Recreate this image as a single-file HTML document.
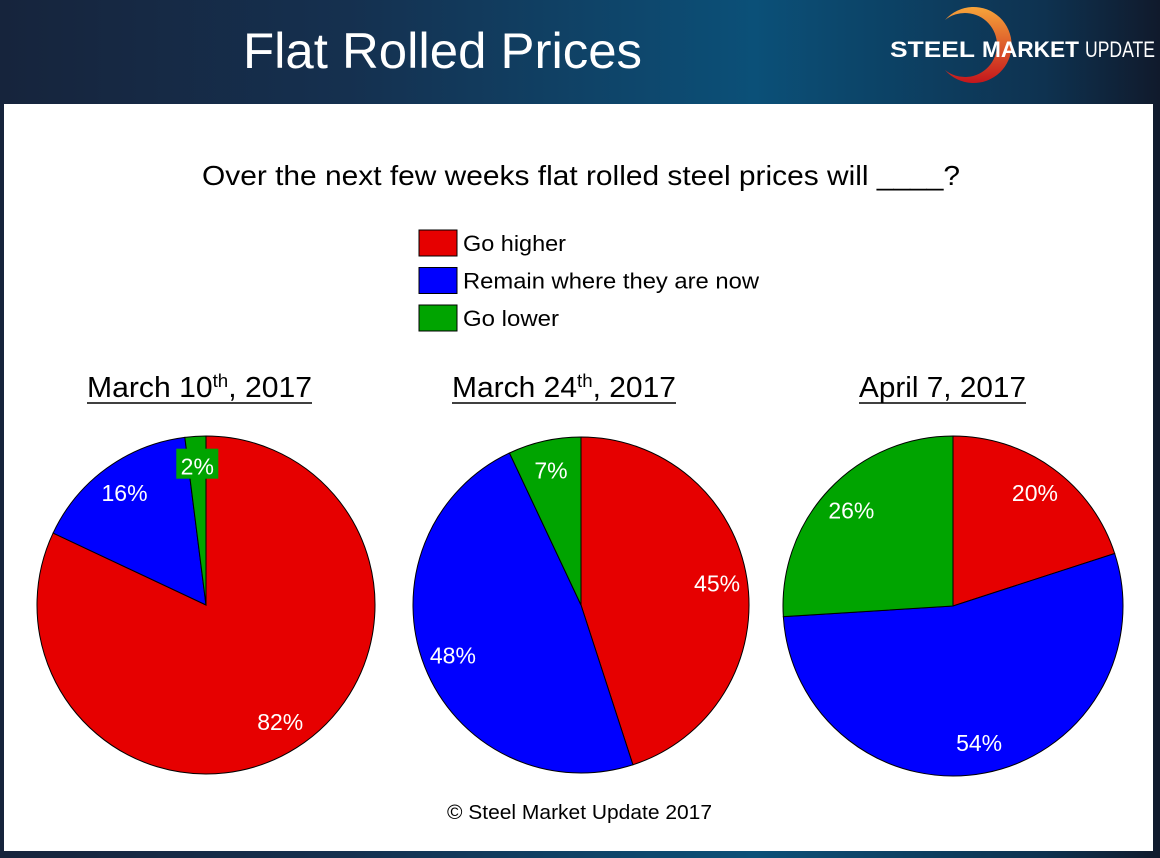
<!DOCTYPE html>
<html><head><meta charset="utf-8">
<style>
html,body{margin:0;padding:0;}
body{width:1160px;height:858px;overflow:hidden;position:relative;font-family:"Liberation Sans","DejaVu Sans",sans-serif;
background:linear-gradient(90deg,#16243c 0%,#15304f 30%,#0b5078 65%,#0e3250 90%,#101a2c 100%);}
#panel{position:absolute;left:4px;top:104px;width:1149px;height:747px;background:#fff;}
</style></head><body>
<svg style="position:absolute;left:0;top:0" width="860" height="100">
<text x="243" y="68" fill="#fff" font-size="50" textLength="399" lengthAdjust="spacingAndGlyphs">Flat Rolled Prices</text>
</svg>
<svg style="position:absolute;left:880px;top:0" width="280" height="100">
<defs><linearGradient id="lg" x1="0" y1="0" x2="0" y2="1"><stop offset="0" stop-color="#f7a43a"/><stop offset="1" stop-color="#c4161c"/></linearGradient></defs>
<path d="M60 25 A38 38 0 1 1 60 75 A32 32 0 1 0 60 25Z" fill="url(#lg)" transform="translate(5,-5)"/>
<text x="10" y="57" fill="#fff" font-size="22" font-weight="bold" textLength="85" lengthAdjust="spacingAndGlyphs">STEEL</text>
<text x="102" y="57" fill="#fff" font-size="22" font-weight="bold" textLength="97" lengthAdjust="spacingAndGlyphs">MARKET</text>
<text x="205" y="57" fill="#fff" font-size="22" textLength="70" lengthAdjust="spacingAndGlyphs">UPDATE</text>
</svg>
<div id="panel"></div>
<svg id="chart" style="position:absolute;left:0;top:0" width="1160" height="858"></svg>
<script>
const categories=["Go higher","Remain where they are now","Go lower"];
const colors=["#e60000","#0000ff","#00a400"];
const dates=["March 10","March 24","April 7, 2017"];
const march10=[82,16,2];
const march24=[45,48,7];
const april7=[20,54,26];
const NS="http://www.w3.org/2000/svg";
const svg=document.getElementById("chart");
function mk(t,a,p){const e=document.createElementNS(NS,t);for(const k in a)e.setAttribute(k,a[k]);(p||svg).appendChild(e);return e;}
let q=mk("text",{x:202,y:185,"font-size":28,fill:"#000",textLength:758,lengthAdjust:"spacingAndGlyphs"});
q.textContent="Over the next few weeks flat rolled steel prices will ____?";


const legW=[103,296,96];
categories.forEach((c,i)=>{
 const g=mk("g",{});
 
 
 mk("rect",{x:419,y:230+i*37.5,width:38,height:26,fill:colors[i],stroke:"#000","stroke-width":1},g);
 const t=mk("text",{x:463,y:251+i*37.5,"font-size":22,fill:"#000",textLength:legW[i],lengthAdjust:"spacingAndGlyphs"},g);t.textContent=c;
});
const centers=[[206,605],[581,605],[953,606]];
const radii=[169,168,170];
const series=[march10,march24,april7];
const dateHtml=[["March 10","th",", 2017"],["March 24","th",", 2017"],["April 7, 2017","",""]];
const dateX=[[87,312],[452,676],[859,1026]];
series.forEach((vals,k)=>{
 const [cx,cy]=centers[k],r=radii[k];
 const tot=vals.reduce((a,b)=>a+b,0);
 const [dx0,dx1]=dateX[k];
 const t=mk("text",{x:dx0,y:397,"font-size":29,fill:"#000"});
 
 
 const d=dateHtml[k];
 const s1=mk("tspan",{},t);s1.textContent=d[0];
 if(d[1]){const s2=mk("tspan",{"font-size":18,dy:-10},t);s2.textContent=d[1];const s3=mk("tspan",{dy:10},t);s3.textContent=d[2];}
 t.setAttribute("textLength",dx1-dx0);
 t.setAttribute("lengthAdjust","spacingAndGlyphs");
 const line=mk("line",{x1:dx0,y1:403,x2:dx1,y2:403,stroke:"#000","stroke-width":1.5});
 
 
 let a0=0;
 vals.forEach((v,i)=>{
  const a1=a0+v/tot*2*Math.PI;
  const p=(a)=>[cx+r*Math.sin(a),cy-r*Math.cos(a)];
  const [x0,y0]=p(a0),[x1,y1]=p(a1);
  const large=(a1-a0)>Math.PI?1:0;
  const path=mk("path",{d:`M${cx},${cy}L${x0},${y0}A${r},${r} 0 ${large} 1 ${x1},${y1}Z`,fill:colors[i],stroke:"#000","stroke-width":1});
  
  
  const am=(a0+a1)/2,lr=r*0.82;
  const lx=cx+lr*Math.sin(am),ly=cy-lr*Math.cos(am);
  if(v<5){const bg=mk("rect",{x:lx-21,y:ly-18,width:42,height:30,fill:colors[i]});
   
   }
  const lt=mk("text",{x:lx,y:ly+8,"text-anchor":"middle","font-size":23,fill:"#fff"});
  lt.textContent=v+"%";
  
  
  a0=a1;
 });
});
const ft=mk("text",{x:447,y:819,"font-size":20,fill:"#000",textLength:265,lengthAdjust:"spacingAndGlyphs"});
ft.textContent="© Steel Market Update 2017";


</script>
</body></html>
